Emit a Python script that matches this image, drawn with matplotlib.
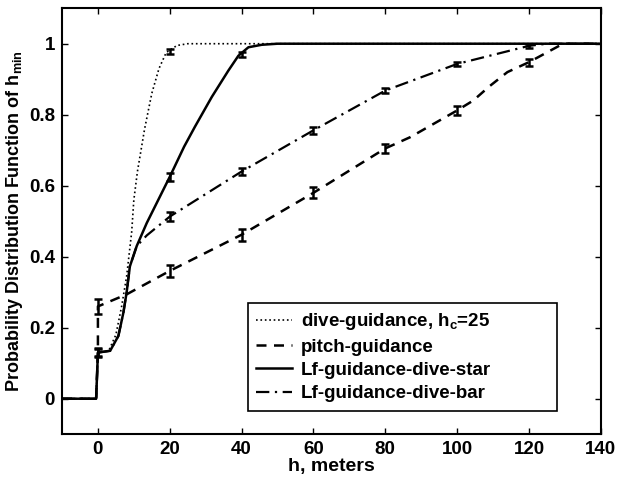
import matplotlib
matplotlib.use('Agg')
import matplotlib.pyplot as plt
import numpy as np

# curve samples (h in meters, cumulative probability)
dive_h = [-10, -0.5, 0, 3, 5, 6.6, 8, 9.4, 10, 11, 13, 15, 17, 19, 22, 25, 140]
dive_p = [0, 0, 0.13, 0.135, 0.18, 0.26, 0.345, 0.47, 0.56, 0.64, 0.76, 0.86, 0.93, 0.975, 0.995, 1.0, 1.0]

pitch_h = [-10, -0.5, 0, 0, 8, 20, 40, 60, 80, 87, 100, 104.5, 109, 114, 120, 129.5, 140]
pitch_p = [0, 0, 0.13, 0.26, 0.294, 0.36, 0.462, 0.58, 0.705, 0.737, 0.812, 0.84, 0.88, 0.92, 0.948, 1.0, 1.0]

star_h = [-10, -0.5, 0, 3.4, 5.7, 7.1, 8, 8.9, 10.8, 13.6, 20, 24, 27, 31.7, 36.3, 39.1, 41.9, 45.6, 50, 140]
star_p = [0, 0, 0.13, 0.135, 0.177, 0.243, 0.30, 0.373, 0.43, 0.495, 0.625, 0.71, 0.766, 0.85, 0.924, 0.966, 0.99, 0.997, 1.0, 1.0]

bar_h = [-10, -0.5, 0, 3.4, 5.7, 7.1, 8, 8.9, 10.8, 13.6, 20, 40, 60, 80, 100, 120, 125, 140]
bar_p = [0, 0, 0.13, 0.135, 0.177, 0.243, 0.30, 0.373, 0.43, 0.46, 0.513, 0.64, 0.756, 0.868, 0.943, 0.994, 1.0, 1.0]

# error bars
dive_eh = [0, 20]
dive_ep = [0.13, 0.978]
dive_ee = [0.01, 0.008]

pitch_eh = [0, 20, 40, 60, 80, 100, 120]
pitch_ep = [0.26, 0.36, 0.462, 0.58, 0.705, 0.812, 0.948]
pitch_ee = [0.02, 0.017, 0.017, 0.015, 0.013, 0.013, 0.01]

star_eh = [0, 20, 40]
star_ep = [0.13, 0.625, 0.97]
star_ee = [0.012, 0.012, 0.008]

bar_eh = [20, 40, 60, 80, 100, 120]
bar_ep = [0.513, 0.64, 0.756, 0.868, 0.943, 0.994]
bar_ee = [0.013, 0.01, 0.01, 0.007, 0.005, 0.005]

x_ticks = [0, 20, 40, 60, 80, 100, 120, 140]
y_ticks = [0, 0.2, 0.4, 0.6, 0.8, 1]
y_labels = ['0', '0.2', '0.4', '0.6', '0.8', '1']

plt.rcParams['font.family'] = ['Liberation Sans', 'DejaVu Sans']
plt.rcParams['font.weight'] = 'bold'
plt.rcParams['mathtext.fontset'] = 'custom'
plt.rcParams['mathtext.rm'] = 'Liberation Sans:bold'
plt.rcParams['mathtext.it'] = 'Liberation Sans:bold'

fig = plt.figure(figsize=(6.2, 4.83), dpi=100)
ax = fig.add_axes([0.1, 0.101, 0.869, 0.882])

ax.plot(dive_h, dive_p, color='black', linestyle=':', linewidth=1.2, label='dive-guidance, h$_c$=25')
ax.plot(pitch_h, pitch_p, color='black', linestyle=(0, (4, 3)), linewidth=1.8, label='pitch-guidance')
ax.plot(star_h, star_p, color='black', linestyle='-', linewidth=1.8, label='Lf-guidance-dive-star')
ax.plot(bar_h, bar_p, color='black', linestyle=(0, (6, 2.5, 1, 2.5)), linewidth=1.6, label='Lf-guidance-dive-bar')

ekw = dict(fmt='none', ecolor='black', elinewidth=1.8, capsize=3, capthick=1.8)
ax.errorbar(dive_eh, dive_ep, yerr=dive_ee, **ekw)
ax.errorbar(pitch_eh, pitch_ep, yerr=pitch_ee, **ekw)
ax.errorbar(star_eh, star_ep, yerr=star_ee, **ekw)
ax.errorbar(bar_eh, bar_ep, yerr=bar_ee, **ekw)

ax.set_xlim(-10, 140)
ax.set_ylim(-0.1, 1.1)
ax.set_xticks(x_ticks)
ax.set_yticks(y_ticks)
ax.set_yticklabels(y_labels)
ax.tick_params(direction='in', top=True, right=True, length=4, width=1, labelsize=13.5, pad=5)
for lbl in ax.get_xticklabels() + ax.get_yticklabels():
    lbl.set_fontweight('bold')
for s in ax.spines.values():
    s.set_linewidth(1.5)

ax.set_xlabel('h, meters', fontsize=14, fontweight='bold', labelpad=0)
ax.set_ylabel('Probability Distribution Function of h$_{min}$', fontsize=13, fontweight='bold', labelpad=3)

leg = ax.legend(loc='lower left', bbox_to_anchor=(0.327, 0.033, 0.61, 0.27), mode='expand',
                prop={'size': 13.5, 'weight': 'bold'}, handlelength=1.9, handletextpad=0.5,
                labelspacing=0.33, borderpad=0.45, fancybox=False, framealpha=1, edgecolor='black')
leg.get_frame().set_linewidth(1.2)

fig.savefig('out.png', dpi=100)
